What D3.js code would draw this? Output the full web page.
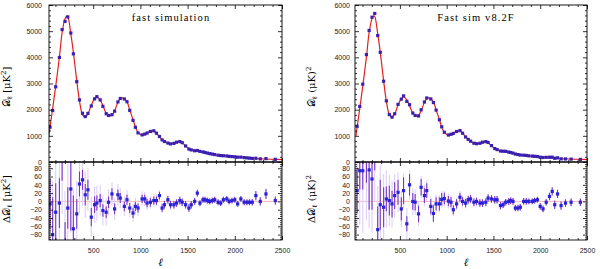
<!DOCTYPE html>
<html>
<head>
<meta charset="utf-8">
<script src="https://cdn.jsdelivr.net/npm/d3@7"></script>
<style>
body { margin: 0; background: #fff; }
</style>
</head>
<body>
<script>
// multipole bins (shared by both runs)
const ell = [43, 71, 103, 142, 171, 202, 231, 263, 290, 326, 355, 387, 416, 444, 480, 515, 539, 574, 603, 638,
  663, 699, 727, 762, 787, 830, 858, 887, 922, 947, 975, 1018, 1046, 1071, 1106, 1142, 1170, 1202, 1230, 1255,
  1291, 1319, 1355, 1383, 1418, 1443, 1479, 1514, 1539, 1575, 1603, 1631, 1663, 1684, 1709, 1734, 1762, 1787, 1823, 1851,
  1879, 1915, 1940, 1970, 2000, 2030, 2064, 2099, 2128, 2155, 2185, 2223, 2270, 2330, 2429]

// theory spectrum (red line)
const ellTheory = [30, 43, 71, 103, 142, 171, 202, 220, 231, 263, 290, 326, 355, 387, 416, 444, 480, 515, 539, 574,
  603, 638, 663, 699, 727, 762, 787, 810, 830, 858, 887, 922, 947, 975, 1018, 1046, 1071, 1106, 1142, 1170,
  1202, 1230, 1255, 1291, 1319, 1355, 1383, 1418, 1443, 1479, 1514, 1539, 1575, 1603, 1631, 1663, 1684, 1709, 1734, 1762,
  1787, 1823, 1851, 1879, 1915, 1940, 1970, 2000, 2030, 2064, 2099, 2128, 2155, 2185, 2223, 2270, 2330, 2429, 2500]
const dlTheory = [1000, 1340, 2050, 2900, 4000, 4950, 5480, 5580, 5560, 4900, 4200, 3100, 2330, 1810, 1720, 1830, 2180, 2420, 2500, 2370,
  2150, 1870, 1780, 1790, 1960, 2280, 2420, 2450, 2420, 2300, 1990, 1620, 1340, 1130, 1030, 1060, 1110, 1170, 1190, 1100,
  960, 860, 790, 720, 700, 720, 760, 780, 740, 620, 510, 470, 430, 420, 410, 380, 360, 340, 320, 300,
  280, 260, 250, 235, 225, 215, 205, 195, 190, 180, 170, 160, 150, 140, 130, 120, 112, 100, 92]

// binned spectra
const dlFast = [1334, 1970, 2874, 3996, 5060, 5375, 5544, 4930, 4134, 3070, 2372, 1862, 1736, 1858, 2142, 2412, 2496, 2372, 2128, 1844,
  1778, 1808, 1942, 2296, 2428, 2408, 2304, 1974, 1592, 1328, 1114, 1036, 1066, 1106, 1168, 1192, 1102, 974, 844, 782,
  724, 692, 712, 756, 782, 738, 612, 494, 462, 430, 440, 406, 384, 364, 342, 320, 302, 284, 258, 246,
  239, 231, 215, 207, 199, 184, 186, 168, 158, 148, 138, 144, 120, 130, 102]
const dlV82 = [1366, 2124, 2974, 4105, 5026, 5534, 5675, 4832, 4192, 3086, 2336, 1812, 1714, 1844, 2202, 2402, 2526, 2316, 2190, 1870,
  1778, 1760, 1994, 2294, 2446, 2408, 2271, 1984, 1614, 1345, 1137, 1031, 1058, 1090, 1164, 1200, 1100, 956, 864, 796,
  718, 700, 716, 756, 778, 748, 626, 514, 474, 420, 412, 408, 380, 362, 340, 304, 284, 266, 260, 250,
  235, 225, 217, 209, 183, 172, 178, 182, 184, 142, 158, 120, 116, 110, 98]

// residuals and error bars
const resFast = [-6, -80, -26, -4, 110, -105, -16, 30, -66, -30, 42, 52, 16, 28, -38, -8, -4, 2, -22, -26,
  -2, 18, -18, 16, 8, -12, 4, -16, -28, -12, -16, 6, 6, -4, -2, 2, 2, 14, -16, -8,
  4, -8, -8, -4, 2, -2, -8, -16, -8, 0, 20, -4, 4, 4, 2, 0, 2, 4, -2, -4,
  4, 6, 0, 2, 4, -6, 6, -2, -2, -2, -2, 14, 0, 18, 2]
const resV82 = [26, 74, 74, 105, 76, 54, 115, -68, -8, -14, 6, 2, -6, 14, 22, -18, 26, -54, 40, 0,
  -2, -30, 34, 14, 26, -12, -29, -6, -6, 5, 7, 1, -2, -20, -6, 10, 0, -4, 4, 6,
  -2, 0, -4, -4, -2, 8, 6, 4, 4, -10, -8, -2, 0, 2, 0, -16, -16, -14, 0, 0,
  0, 0, 2, 4, -12, -18, -2, 12, 24, -8, 18, -10, -4, -2, -2]
const errFast = [60, 90, 70, 60, 60, 55, 50, 100, 80, 36, 30, 24, 26, 24, 22, 20, 18, 16, 15, 14,
  14, 14, 13, 13, 12, 12, 12, 12, 12, 11, 11, 10, 10, 10, 10, 10, 10, 9, 9, 9,
  9, 9, 9, 9, 9, 9, 9, 9, 9, 8, 8, 7, 7, 7, 7, 7, 7, 7, 7, 7,
  7, 7, 7, 7, 7, 7, 7, 7, 7, 7, 8, 11, 10, 12, 10]
const errV82 = [55, 45, 45, 60, 96, 74, 40, 56, 60, 48, 30, 36, 32, 32, 30, 28, 32, 18, 26, 20,
  20, 20, 20, 18, 18, 18, 20, 16, 16, 15, 14, 12, 12, 11, 11, 10, 10, 10, 9, 9,
  9, 9, 9, 9, 9, 9, 9, 9, 9, 9, 8, 8, 8, 8, 8, 8, 8, 8, 8, 8,
  7, 7, 7, 7, 8, 8, 8, 9, 10, 10, 10, 10, 9, 9, 9]
const errCV = [90, 130, 150, 150, 140, 130, 115, 105, 95, 80, 70, 62, 56, 52, 48, 44, 42, 38, 36, 33,
  31, 29, 27, 26, 25, 24, 23, 22, 21, 20, 19, 18, 17, 16, 15, 15, 14, 13, 12, 12,
  11, 11, 10, 10, 10, 9, 9, 9, 9, 9, 8, 8, 8, 8, 8, 8, 8, 7, 7, 7,
  7, 7, 7, 7, 7, 7, 7, 7, 7, 7, 8, 10, 9, 10, 9]

const xMajor = [500, 1000, 1500, 2000, 2500]
const yTopMajor = [0, 1000, 2000, 3000, 4000, 5000, 6000]
const yBotMajor = [-80, -60, -40, -20, 0, 20, 40, 60, 80]

const m = { width: 600, height: 269, top: 5, mid: 162, bottom: 240 }

const panels = [
  { id: 'a', left: 49, right: 282, lmin: 32, dl: dlFast, res: resFast, err: errFast,
    title: 'fast simulation', titleX: 171, pad: 7, labelX: 10, unit: ['[μK', '2', ']'] },
  { id: 'b', left: 355, right: 587, lmin: 20, dl: dlV82, res: resV82, err: errV82,
    title: 'Fast sim v8.2F', titleX: 476, pad: 5, labelX: 315, unit: ['(μK)', '2', ''] }
]

const svg = d3.select('body').append('svg')
  .attr('width', m.width)
  .attr('height', m.height)
  .style('background', '#fff')

const defs = svg.append('defs')
const fmt = d3.format('d')

panels.forEach(function(p) {
  const x = d3.scaleLinear().domain([p.lmin, 2500]).range([p.left, p.right])
  const yTop = d3.scaleLinear().domain([0, 6000]).range([m.mid, m.top])
  const yBot = d3.scaleLinear().domain([-93, 95]).range([m.bottom, m.mid])
  const g = svg.append('g')

  defs.append('clipPath').attr('id', 'ct' + p.id).append('rect')
    .attr('x', p.left).attr('y', m.top).attr('width', p.right - p.left).attr('height', m.mid - m.top)
  defs.append('clipPath').attr('id', 'cb' + p.id).append('rect')
    .attr('x', p.left).attr('y', m.mid).attr('width', p.right - p.left).attr('height', m.bottom - m.mid)

  // ---- top panel
  const top = g.append('g').attr('clip-path', 'url(#ct' + p.id + ')')
  const line = d3.line()
    .x(d => x(d[0]))
    .y(d => yTop(d[1]))
    .curve(d3.curveCatmullRom)
  top.append('path')
    .datum(d3.zip(ellTheory, dlTheory))
    .attr('d', line)
    .attr('fill', 'none')
    .attr('stroke', '#e3201e')
    .attr('stroke-width', 1.2)
  top.selectAll('.dot')
    .data(d3.zip(ell, p.dl))
    .enter()
    .append('rect')
      .attr('x', d => x(d[0]) - 1.6)
      .attr('y', d => yTop(d[1]) - 1.6)
      .attr('width', 3.2)
      .attr('height', 3.2)
      .attr('fill', '#3a1fb0')

  // ---- residual panel
  const bot = g.append('g').attr('clip-path', 'url(#cb' + p.id + ')')
  bot.append('line')
    .attr('x1', p.left).attr('x2', p.right)
    .attr('y1', yBot(0)).attr('y2', yBot(0))
    .attr('stroke', '#eeaaa0').attr('stroke-width', 0.8)
  const rows = d3.zip(ell, p.res, p.err, errCV)
  bot.selectAll('.cv')
    .data(rows)
    .enter()
    .append('line')
      .attr('x1', d => x(d[0])).attr('x2', d => x(d[0]))
      .attr('y1', d => yBot(d[1] - d[3])).attr('y2', d => yBot(d[1] + d[3]))
      .attr('stroke', '#ddd0f6').attr('stroke-width', 1.1)
  bot.selectAll('.eb')
    .data(rows)
    .enter()
    .append('line')
      .attr('x1', d => x(d[0])).attr('x2', d => x(d[0]))
      .attr('y1', d => yBot(d[1] - d[2])).attr('y2', d => yBot(d[1] + d[2]))
      .attr('stroke', '#7a36c2').attr('stroke-width', 1.1)
  bot.selectAll('.pt')
    .data(rows)
    .enter()
    .append('rect')
      .attr('x', d => x(d[0]) - 1.6)
      .attr('y', d => yBot(d[1]) - 1.6)
      .attr('width', 3.2)
      .attr('height', 3.2)
      .attr('fill', '#2a22d8')

  // ---- axes (inward ticks)
  function addAxis(axis, values, size, tr, labels, pad) {
    axis.tickValues(values).tickSize(size).tickPadding(pad || 0)
      .tickFormat(labels ? fmt : '')
    const ag = g.append('g').attr('transform', tr).call(axis)
    ag.select('.domain').remove()
    ag.selectAll('line').attr('stroke', '#000').attr('stroke-width', 0.8)
    ag.selectAll('text')
      .attr('font-size', 7)
      .attr('font-family', 'Liberation Sans, Arial, sans-serif')
      .attr('fill', '#222')
  }
  const xMinor = d3.range(100, 2500, 100).filter(v => v % 500 && v > p.lmin)
  const yTopMinor = d3.range(200, 6000, 200).filter(v => v % 1000)
  const yBotMinor = d3.range(-90, 95, 5).filter(v => v % 20)

  // horizontal edges
  addAxis(d3.axisTop(x), xMajor, -4, 'translate(0,' + m.top + ')')
  addAxis(d3.axisTop(x), xMinor, -2, 'translate(0,' + m.top + ')')
  addAxis(d3.axisBottom(x), xMajor, -4, 'translate(0,' + m.mid + ')')
  addAxis(d3.axisBottom(x), xMinor, -2, 'translate(0,' + m.mid + ')')
  addAxis(d3.axisBottom(x), xMajor, 4, 'translate(0,' + m.mid + ')')
  addAxis(d3.axisBottom(x), xMinor, 2, 'translate(0,' + m.mid + ')')
  addAxis(d3.axisBottom(x), xMajor, -4, 'translate(0,' + m.bottom + ')', true, 8)
  addAxis(d3.axisBottom(x), xMinor, -2, 'translate(0,' + m.bottom + ')')

  // vertical edges
  addAxis(d3.axisLeft(yTop), yTopMajor, -4, 'translate(' + p.left + ',0)', true, p.pad)
  addAxis(d3.axisLeft(yTop), yTopMinor, -2, 'translate(' + p.left + ',0)')
  addAxis(d3.axisRight(yTop), yTopMajor, -4, 'translate(' + p.right + ',0)')
  addAxis(d3.axisRight(yTop), yTopMinor, -2, 'translate(' + p.right + ',0)')
  addAxis(d3.axisLeft(yBot), yBotMajor, -4, 'translate(' + p.left + ',0)', true, p.pad)
  addAxis(d3.axisLeft(yBot), yBotMinor, -2, 'translate(' + p.left + ',0)')
  addAxis(d3.axisRight(yBot), yBotMajor, -4, 'translate(' + p.right + ',0)')
  addAxis(d3.axisRight(yBot), yBotMinor, -2, 'translate(' + p.right + ',0)')

  // frames
  g.append('rect')
    .attr('x', p.left).attr('y', m.top)
    .attr('width', p.right - p.left).attr('height', m.bottom - m.top)
    .attr('fill', 'none').attr('stroke', '#000').attr('stroke-width', 0.9)
  g.append('line')
    .attr('x1', p.left).attr('x2', p.right)
    .attr('y1', m.mid).attr('y2', m.mid)
    .attr('stroke', '#000').attr('stroke-width', 1.3)

  // title
  g.append('text')
    .attr('x', p.titleX).attr('y', 21)
    .attr('text-anchor', 'middle')
    .attr('font-family', 'Liberation Serif, serif')
    .attr('font-size', 10.5)
    .attr('letter-spacing', 1.1)
    .text(p.title)

  // x label
  g.append('text')
    .attr('x', (p.left + p.right) / 2 - 5).attr('y', 266)
    .attr('text-anchor', 'middle')
    .attr('font-family', 'DejaVu Serif, serif')
    .attr('font-style', 'italic')
    .attr('font-size', 11)
    .text('ℓ')

  // y labels
  function yLabel(cy, delta) {
    const t = g.append('text')
      .attr('transform', 'translate(' + p.labelX + ',' + cy + ') rotate(-90)')
      .attr('text-anchor', 'middle')
      .attr('font-family', 'DejaVu Serif, serif')
      .attr('font-size', 10)
    t.append('tspan').text((delta ? 'Δ' : '') + '𝒟')
    t.append('tspan').attr('font-size', 7).attr('dy', 2).text('ℓ')
    t.append('tspan').attr('dy', -2).text(' ' + p.unit[0])
    t.append('tspan').attr('font-size', 7).attr('dy', -4).text(p.unit[1])
    t.append('tspan').attr('dy', 4).text(p.unit[2])
  }
  yLabel(87, false)
  yLabel(199, true)
})
</script>
</body>
</html>
